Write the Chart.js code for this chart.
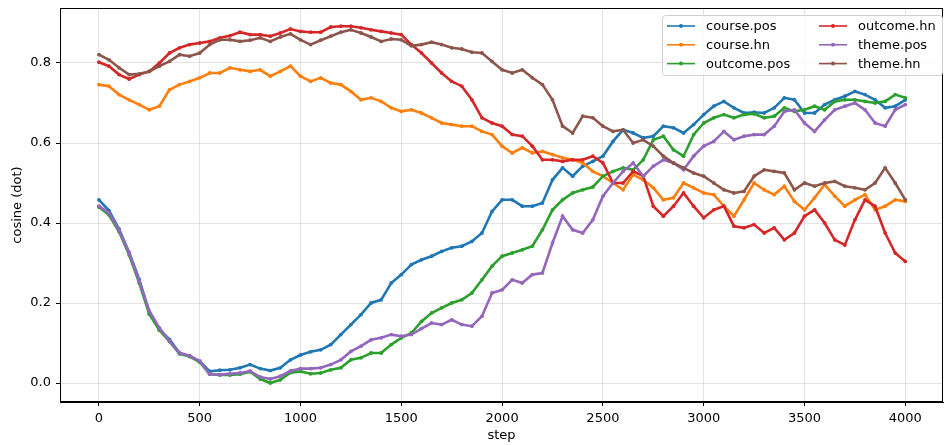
<!DOCTYPE html>
<html>
<head>
<meta charset="utf-8">
<script src="https://cdn.jsdelivr.net/npm/chart.js@4.4.1/dist/chart.umd.min.js"></script>
<style>
  html, body { margin: 0; padding: 0; background: #fff; }
</style>
</head>
<body>
<canvas id="chart" width="947" height="445"></canvas>
<script>
// values, one every 50 steps
const steps = [0, 50, 100, 150, 200, 250, 300, 350, 400, 450, 500, 550, 600, 650, 700, 750, 800, 850, 900, 950,
  1000, 1050, 1100, 1150, 1200, 1250, 1300, 1350, 1400, 1450, 1500, 1550, 1600, 1650, 1700, 1750, 1800, 1850, 1900, 1950,
  2000, 2050, 2100, 2150, 2200, 2250, 2300, 2350, 2400, 2450, 2500, 2550, 2600, 2650, 2700, 2750, 2800, 2850, 2900, 2950,
  3000, 3050, 3100, 3150, 3200, 3250, 3300, 3350, 3400, 3450, 3500, 3550, 3600, 3650, 3700, 3750, 3800, 3850, 3900, 3950, 4000];

const coursePos = [0.458, 0.431, 0.385, 0.326, 0.259, 0.176, 0.134, 0.109, 0.075, 0.067, 0.054, 0.029, 0.032, 0.033, 0.038, 0.046, 0.036, 0.031, 0.038, 0.058,
  0.070, 0.078, 0.083, 0.096, 0.121, 0.146, 0.171, 0.200, 0.208, 0.250, 0.271, 0.296, 0.308, 0.317, 0.329, 0.338, 0.342, 0.354, 0.375, 0.429,
  0.458, 0.458, 0.442, 0.442, 0.450, 0.508, 0.538, 0.517, 0.542, 0.554, 0.567, 0.604, 0.633, 0.625, 0.613, 0.617, 0.642, 0.638, 0.625, 0.646,
  0.671, 0.692, 0.704, 0.688, 0.675, 0.677, 0.675, 0.688, 0.713, 0.708, 0.675, 0.675, 0.696, 0.708, 0.717, 0.729, 0.721, 0.708, 0.688, 0.692, 0.708];

const courseHn = [0.746, 0.742, 0.721, 0.708, 0.696, 0.683, 0.692, 0.733, 0.746, 0.754, 0.763, 0.775, 0.775, 0.788, 0.783, 0.779, 0.783, 0.767, 0.779, 0.792,
  0.767, 0.754, 0.763, 0.750, 0.746, 0.729, 0.708, 0.713, 0.704, 0.688, 0.679, 0.683, 0.675, 0.663, 0.650, 0.646, 0.642, 0.642, 0.629, 0.621,
  0.592, 0.575, 0.588, 0.575, 0.579, 0.571, 0.563, 0.558, 0.550, 0.529, 0.517, 0.500, 0.483, 0.521, 0.508, 0.488, 0.458, 0.463, 0.500, 0.488,
  0.475, 0.471, 0.442, 0.417, 0.458, 0.500, 0.483, 0.471, 0.492, 0.454, 0.433, 0.463, 0.496, 0.467, 0.442, 0.458, 0.471, 0.433, 0.442, 0.458, 0.454];

const outcomePos = [0.440, 0.420, 0.378, 0.320, 0.250, 0.172, 0.132, 0.104, 0.073, 0.066, 0.052, 0.022, 0.020, 0.020, 0.022, 0.028, 0.010, 0.000, 0.008, 0.026,
  0.029, 0.023, 0.025, 0.033, 0.038, 0.058, 0.063, 0.075, 0.075, 0.096, 0.113, 0.125, 0.154, 0.175, 0.188, 0.200, 0.208, 0.225, 0.258, 0.292,
  0.317, 0.325, 0.333, 0.342, 0.383, 0.433, 0.458, 0.475, 0.483, 0.490, 0.517, 0.529, 0.538, 0.533, 0.558, 0.608, 0.617, 0.583, 0.567, 0.621,
  0.650, 0.663, 0.671, 0.663, 0.671, 0.673, 0.663, 0.667, 0.688, 0.679, 0.683, 0.692, 0.683, 0.704, 0.708, 0.708, 0.704, 0.700, 0.704, 0.721, 0.713];

const outcomeHn = [0.802, 0.792, 0.771, 0.760, 0.771, 0.779, 0.800, 0.825, 0.838, 0.846, 0.850, 0.854, 0.863, 0.868, 0.877, 0.871, 0.871, 0.867, 0.875, 0.885,
  0.879, 0.877, 0.877, 0.890, 0.892, 0.892, 0.888, 0.883, 0.879, 0.875, 0.871, 0.846, 0.825, 0.800, 0.775, 0.754, 0.742, 0.708, 0.663, 0.650,
  0.642, 0.621, 0.617, 0.592, 0.558, 0.558, 0.554, 0.558, 0.558, 0.567, 0.550, 0.500, 0.500, 0.529, 0.517, 0.442, 0.417, 0.442, 0.475, 0.442,
  0.413, 0.433, 0.442, 0.392, 0.388, 0.396, 0.375, 0.388, 0.358, 0.375, 0.417, 0.433, 0.400, 0.358, 0.345, 0.408, 0.458, 0.442, 0.375, 0.325, 0.304];

const themePos = [0.442, 0.425, 0.382, 0.325, 0.255, 0.180, 0.138, 0.105, 0.075, 0.068, 0.055, 0.022, 0.021, 0.023, 0.025, 0.030, 0.015, 0.010, 0.017, 0.030,
  0.036, 0.036, 0.038, 0.046, 0.058, 0.079, 0.092, 0.108, 0.113, 0.121, 0.117, 0.121, 0.136, 0.150, 0.146, 0.158, 0.146, 0.142, 0.167, 0.225,
  0.233, 0.258, 0.250, 0.271, 0.275, 0.350, 0.417, 0.383, 0.375, 0.408, 0.467, 0.500, 0.529, 0.550, 0.517, 0.542, 0.558, 0.550, 0.533, 0.567,
  0.592, 0.604, 0.629, 0.608, 0.617, 0.621, 0.621, 0.642, 0.679, 0.683, 0.650, 0.629, 0.658, 0.683, 0.692, 0.700, 0.683, 0.650, 0.642, 0.683, 0.696];

const themeHn = [0.821, 0.808, 0.788, 0.771, 0.773, 0.779, 0.792, 0.804, 0.821, 0.817, 0.825, 0.846, 0.858, 0.858, 0.854, 0.857, 0.863, 0.854, 0.865, 0.873,
  0.858, 0.846, 0.857, 0.867, 0.877, 0.883, 0.875, 0.865, 0.854, 0.860, 0.858, 0.843, 0.846, 0.852, 0.846, 0.838, 0.835, 0.827, 0.825, 0.804,
  0.783, 0.775, 0.783, 0.763, 0.746, 0.708, 0.642, 0.625, 0.667, 0.663, 0.642, 0.629, 0.633, 0.600, 0.608, 0.592, 0.567, 0.550, 0.538, 0.525,
  0.517, 0.500, 0.483, 0.475, 0.479, 0.517, 0.533, 0.529, 0.525, 0.483, 0.500, 0.492, 0.500, 0.504, 0.492, 0.488, 0.483, 0.500, 0.538, 0.500, 0.458];

const seriesNames = ["course.pos", "course.hn", "outcome.pos", "outcome.hn", "theme.pos", "theme.hn"];
const seriesValues = [coursePos, courseHn, outcomePos, outcomeHn, themePos, themeHn];
const colors = ["#1f77b4", "#ff7f0e", "#2ca02c", "#d62728", "#9467bd", "#8c564b"];

const xTicks = [0, 500, 1000, 1500, 2000, 2500, 3000, 3500, 4000];
const yTicks = [0.0, 0.2, 0.4, 0.6, 0.8];

const FONT = "'DejaVu Sans', sans-serif";

const datasets = seriesNames.map((name, i) => ({
  label: name,
  data: steps.map((s, j) => ({ x: s, y: seriesValues[i][j] })),
  borderColor: colors[i],
  backgroundColor: colors[i],
  borderWidth: 2.6,
  pointRadius: 1.9,
  pointBorderWidth: 0,
  pointBackgroundColor: colors[i],
  tension: 0,
  fill: false,
  order: seriesNames.length - i  // later series on top, like matplotlib
}));

// top/right spines plus the framed 2-column legend inside the axes
const framePlugin = {
  id: "frame",
  afterDatasetsDraw(chart) {
    const ctx = chart.ctx;
    const a = chart.chartArea;
    ctx.save();
    ctx.strokeStyle = "#000";
    ctx.lineWidth = 1;
    ctx.strokeRect(a.left + 0.5, a.top + 0.5, a.right - a.left - 1, a.bottom - a.top - 1);

    // legend box
    const bx = 662, by = 15, bw = 280, bh = 60;
    ctx.fillStyle = "rgba(255,255,255,0.8)";
    ctx.strokeStyle = "#d0d0d0";
    ctx.beginPath();
    ctx.roundRect(bx + 0.5, by + 0.5, bw, bh, 3);
    ctx.fill();
    ctx.stroke();

    ctx.font = "13px " + FONT;
    ctx.textBaseline = "middle";
    ctx.textAlign = "left";
    chart.data.datasets.forEach((ds, i) => {
      const col = Math.floor(i / 3), row = i % 3;
      const x0 = col === 0 ? 667 : 819;
      const y = 26 + row * 18.8;
      ctx.strokeStyle = ds.borderColor;
      ctx.lineWidth = 1.6;
      ctx.beginPath();
      ctx.moveTo(x0, y);
      ctx.lineTo(x0 + 28, y);
      ctx.stroke();
      ctx.fillStyle = ds.borderColor;
      ctx.beginPath();
      ctx.arc(x0 + 14, y, 2, 0, Math.PI * 2);
      ctx.fill();
      ctx.fillStyle = "#000";
      ctx.fillText(ds.label, x0 + 39, y + 1);
    });
    ctx.restore();
  }
};

new Chart(document.getElementById("chart"), {
  type: "line",
  data: { datasets: datasets },
  options: {
    responsive: false,
    animation: false,
    devicePixelRatio: 1,
    layout: { padding: { left: 10, right: 1, top: 8, bottom: 0 } },
    plugins: {
      legend: { display: false },
      tooltip: { enabled: false }
    },
    scales: {
      x: {
        type: "linear",
        min: -193,
        max: 4187,
        afterBuildTicks: axis => { axis.ticks = xTicks.map(v => ({ value: v })); },
        afterFit: axis => { axis.height = 43; axis.paddingLeft = 0; axis.paddingRight = 0; },
        grid: { color: "rgba(176,176,176,0.35)", lineWidth: 1, tickColor: "#000", tickLength: 4 },
        border: { display: true, color: "#000", width: 1 },
        ticks: { color: "#000", font: { family: FONT, size: 13 }, padding: 5, maxRotation: 0, autoSkip: false,
                 callback: v => String(v) },
        title: { display: true, text: "step", color: "#000", font: { family: FONT, size: 13 }, padding: { top: 0, bottom: 2 } }
      },
      y: {
        min: -0.0475,
        max: 0.9375,
        afterBuildTicks: axis => { axis.ticks = yTicks.map(v => ({ value: v })); },
        afterFit: axis => { axis.width = 50; axis.paddingTop = 0; axis.paddingBottom = 0; },
        grid: { color: "rgba(176,176,176,0.35)", lineWidth: 1, tickColor: "#000", tickLength: 4 },
        border: { display: true, color: "#000", width: 1 },
        ticks: {
          color: "#000",
          font: { family: FONT, size: 13 },
          padding: 5,
          callback: v => v.toFixed(1)
        },
        title: { display: true, text: "cosine (dot)", color: "#000", font: { family: FONT, size: 13 }, padding: { top: 0, bottom: 6 } }
      }
    }
  },
  plugins: [framePlugin]
});
</script>
</body>
</html>
